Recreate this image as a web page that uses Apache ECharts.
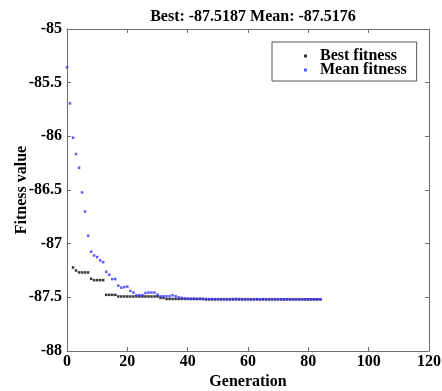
<!DOCTYPE html>
<html><head><meta charset="utf-8">
<script src="https://cdn.jsdelivr.net/npm/echarts@6/dist/echarts.min.js"></script>
<style>html,body{margin:0;padding:0;background:#fff}#c{width:442px;height:391px}</style>
</head><body><div id="c"></div>
<script>
const titleText = 'Best: -87.5187 Mean: -87.5176';
const xLabel = 'Generation';
const yLabel = 'Fitness value';
const seriesNames = ['Best fitness', 'Mean fitness'];
const xTicks = [0, 20, 40, 60, 80, 100, 120];
const yTicks = [-88, -87.5, -87, -86.5, -86, -85.5, -85];
const generations = [0,1,2,3,4,5,6,7,8,9,10,11,12,13,14,15,16,17,18,19,20,21,22,23,24,25,26,27,28,29,30,31,32,33,34,35,36,37,38,39,40,41,42,43,44,45,46,47,48,49,50,51,52,53,54,55,56,57,58,59,60,61,62,63,64,65,66,67,68,69,70,71,72,73,74,75,76,77,78,79,80,81,82,83,84];
const bestFitness = [null,null,-87.222,-87.25,-87.268,-87.268,-87.268,-87.268,-87.327,-87.34,-87.34,-87.34,-87.34,-87.477,-87.477,-87.477,-87.477,-87.492,-87.492,-87.492,-87.492,-87.492,-87.492,-87.492,-87.492,-87.492,-87.492,-87.492,-87.492,-87.492,-87.492,-87.505,-87.505,-87.515,-87.515,-87.515,-87.515,-87.515,-87.515,-87.515,-87.515,-87.515,-87.515,-87.515,-87.515,-87.515,-87.5187,-87.5187,-87.5187,-87.5187,-87.5187,-87.5187,-87.5187,-87.5187,-87.5187,-87.5187,-87.5187,-87.5187,-87.5187,-87.5187,-87.5187,-87.5187,-87.5187,-87.5187,-87.5187,-87.5187,-87.5187,-87.5187,-87.5187,-87.5187,-87.5187,-87.5187,-87.5187,-87.5187,-87.5187,-87.5187,-87.5187,-87.5187,-87.5187,-87.5187,-87.5187,-87.5187,-87.5187,-87.5187,-87.5187];
const meanFitness = [-85.358,-85.693,-86.013,-86.165,-86.293,-86.523,-86.70,-86.926,-87.075,-87.110,-87.125,-87.156,-87.172,-87.262,-87.29,-87.33,-87.33,-87.392,-87.41,-87.405,-87.40,-87.44,-87.455,-87.48,-87.48,-87.48,-87.46,-87.455,-87.455,-87.455,-87.475,-87.49,-87.49,-87.49,-87.49,-87.48,-87.49,-87.50,-87.505,-87.51,-87.512,-87.514,-87.513,-87.515,-87.514,-87.516,-87.515,-87.516,-87.515,-87.517,-87.516,-87.517,-87.516,-87.517,-87.517,-87.516,-87.514,-87.516,-87.517,-87.517,-87.517,-87.518,-87.517,-87.517,-87.518,-87.517,-87.518,-87.517,-87.518,-87.518,-87.517,-87.518,-87.518,-87.517,-87.518,-87.518,-87.518,-87.517,-87.518,-87.518,-87.5176,-87.5176,-87.5176,-87.5176,-87.5176];

const FONT = '"Liberation Serif", "Times New Roman", serif';
const AX = '#6e6e6e';
const chart = echarts.init(document.getElementById('c'), null, {renderer: 'canvas'});
const commonX = {
  type: 'value', min: 0, max: 120, interval: 20,
  axisLine: {show: true, lineStyle: {color: AX, width: 1}},
  axisTick: {show: true, inside: true, length: 4, lineStyle: {color: AX}},
  splitLine: {show: false}
};
const commonY = {
  type: 'value', min: -88, max: -85, interval: 0.5,
  axisLine: {show: true, onZero: false, lineStyle: {color: AX, width: 1}},
  axisTick: {show: true, inside: true, length: 4, lineStyle: {color: AX}},
  splitLine: {show: false}
};
chart.setOption({
  animation: false,
  title: {text: titleText, left: 248, textAlign: 'center', top: 4,
    textStyle: {fontFamily: FONT, fontWeight: 'bold', fontSize: 16, color: '#000'}},
  grid: {left: 67, right: 13, top: 29, bottom: 40, containLabel: false, outerBoundsMode: 'none'},
  legend: {
    orient: 'vertical', left: 272, top: 42,
    data: seriesNames,
    itemWidth: 3, itemHeight: 3, itemGap: -2,
    borderColor: '#555', borderWidth: 1, padding: [6, 10, 3, 32],
    textStyle: {fontFamily: FONT, fontWeight: 'bold', fontSize: 16, lineHeight: 14, color: '#000', padding: [0, 0, 0, 8]}
  },
  xAxis: [
    Object.assign({}, commonX, {position: 'bottom',
      name: xLabel, nameLocation: 'middle', nameGap: 23, nameMoveOverlap: false,
      nameTextStyle: {fontFamily: FONT, fontWeight: 'bold', fontSize: 16, color: '#000'},
      axisLabel: {margin: 3, fontFamily: FONT, fontWeight: 'bold', fontSize: 16, color: '#000',
        formatter: v => xTicks.includes(v) ? String(v) : ''}}),
    Object.assign({}, commonX, {position: 'top', axisLabel: {show: false}})
  ],
  yAxis: [
    Object.assign({}, commonY, {position: 'left',
      name: yLabel, nameLocation: 'middle', nameGap: 37, nameRotate: 90, nameMoveOverlap: false,
      nameTextStyle: {fontFamily: FONT, fontWeight: 'bold', fontSize: 16, color: '#000'},
      axisLabel: {margin: 5, fontFamily: FONT, fontWeight: 'bold', fontSize: 16, color: '#000',
        formatter: v => yTicks.includes(v) ? String(v) : ''}}),
    Object.assign({}, commonY, {position: 'right', axisLabel: {show: false}})
  ],
  series: [
    {name: seriesNames[0], type: 'scatter', xAxisIndex: 0, yAxisIndex: 0,
      symbol: 'rect', symbolSize: 2.5, itemStyle: {color: '#000'},
      data: generations.map((g, i) => [g, bestFitness[i]]).filter(d => d[1] !== null)},
    {name: seriesNames[1], type: 'scatter', xAxisIndex: 0, yAxisIndex: 0,
      symbol: 'rect', symbolSize: 2.5, itemStyle: {color: '#3333ff'},
      data: generations.map((g, i) => [g, meanFitness[i]])}
  ]
});
</script></body></html>
